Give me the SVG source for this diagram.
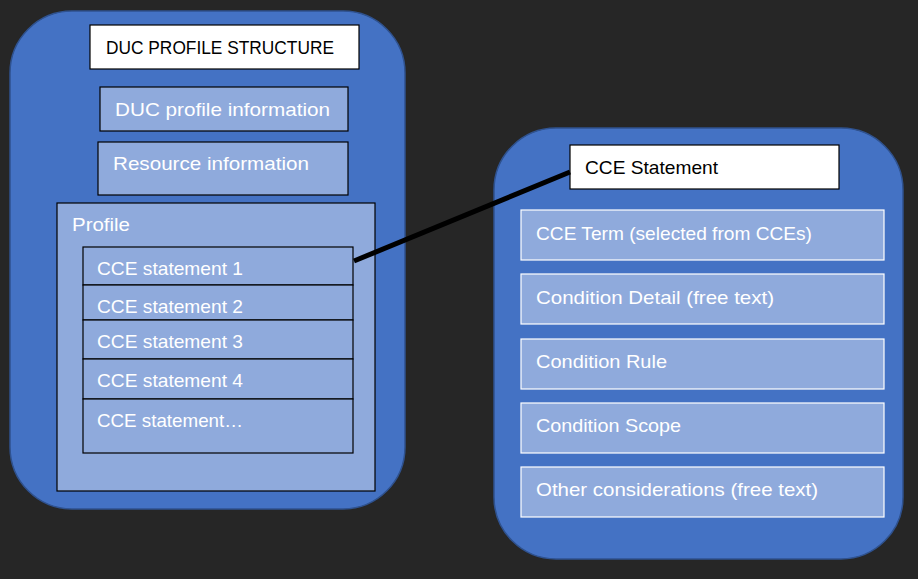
<svg xmlns="http://www.w3.org/2000/svg" width="918" height="579" viewBox="0 0 918 579">
<style>
.bg{fill:#262626}
.outer{fill:#4472C4;stroke:#2F528F;stroke-width:1.5}
.title{fill:#FFFFFF;stroke:#000000;stroke-width:1.2}
.light{fill:#8FAADC;stroke:#000000;stroke-width:1.2}
.lightw{fill:#8FAADC;stroke:#FFFFFF;stroke-width:1.2}
text{font-family:"Liberation Sans",Arial,sans-serif;font-size:18.5px}
.dark{fill:#000000}
.wt{fill:#FFFFFF}
.conn{stroke:#000000;stroke-width:5;fill:none}
</style>
<rect class="bg" x="0" y="0" width="918" height="579"/>
<g id="duc-profile-structure">
<rect class="outer" x="10" y="11" width="395" height="498" rx="62" ry="62"/>
<rect class="title" x="90" y="25" width="269" height="44"/>
<text class="dark" x="106" y="54" style="font-size:17.5px" textLength="228" lengthAdjust="spacingAndGlyphs">DUC PROFILE STRUCTURE</text>
</g>
<g id="duc-profile-information">
<rect class="light" x="100" y="87" width="248" height="44"/>
<text class="wt" x="115" y="116" textLength="215" lengthAdjust="spacingAndGlyphs">DUC profile information</text>
</g>
<g id="resource-information">
<rect class="light" x="98" y="142" width="250" height="53"/>
<text class="wt" x="113" y="170" textLength="196" lengthAdjust="spacingAndGlyphs">Resource information</text>
</g>
<g id="profile">
<rect class="light" x="57" y="203" width="318" height="288"/>
<text class="wt" x="72" y="231" textLength="58" lengthAdjust="spacingAndGlyphs">Profile</text>
</g>
<g id="cce-statement-1">
<rect class="light" x="83" y="247" width="270" height="38"/>
<text class="wt" x="97" y="275" textLength="146" lengthAdjust="spacingAndGlyphs">CCE statement 1</text>
</g>
<g id="cce-statement-2">
<rect class="light" x="83" y="285" width="270" height="35"/>
<text class="wt" x="97" y="313" textLength="146" lengthAdjust="spacingAndGlyphs">CCE statement 2</text>
</g>
<g id="cce-statement-3">
<rect class="light" x="83" y="320" width="270" height="39"/>
<text class="wt" x="97" y="348" textLength="146" lengthAdjust="spacingAndGlyphs">CCE statement 3</text>
</g>
<g id="cce-statement-4">
<rect class="light" x="83" y="359" width="270" height="40"/>
<text class="wt" x="97" y="387" textLength="146" lengthAdjust="spacingAndGlyphs">CCE statement 4</text>
</g>
<g id="cce-statement-more">
<rect class="light" x="83" y="399" width="270" height="54"/>
<text class="wt" x="97" y="427" textLength="146" lengthAdjust="spacingAndGlyphs">CCE statement…</text>
</g>
<g id="cce-statement-detail">
<rect class="outer" x="494" y="128" width="409" height="431" rx="62" ry="62"/>
<rect class="title" x="570" y="145" width="269" height="44"/>
<text class="dark" x="585" y="174" textLength="133" lengthAdjust="spacingAndGlyphs">CCE Statement</text>
</g>
<g id="cce-term">
<rect class="lightw" x="521" y="210" width="363" height="50"/>
<text class="wt" x="536" y="240" textLength="276" lengthAdjust="spacingAndGlyphs">CCE Term (selected from CCEs)</text>
</g>
<g id="condition-detail">
<rect class="lightw" x="521" y="274" width="363" height="50"/>
<text class="wt" x="536" y="304" textLength="238" lengthAdjust="spacingAndGlyphs">Condition Detail (free text)</text>
</g>
<g id="condition-rule">
<rect class="lightw" x="521" y="339" width="363" height="50"/>
<text class="wt" x="536" y="368" textLength="131" lengthAdjust="spacingAndGlyphs">Condition Rule</text>
</g>
<g id="condition-scope">
<rect class="lightw" x="521" y="403" width="363" height="50"/>
<text class="wt" x="536" y="432" textLength="145" lengthAdjust="spacingAndGlyphs">Condition Scope</text>
</g>
<g id="other-considerations">
<rect class="lightw" x="521" y="467" width="363" height="50"/>
<text class="wt" x="536" y="496" textLength="282" lengthAdjust="spacingAndGlyphs">Other considerations (free text)</text>
</g>
<g id="connectors">
<line class="conn" x1="354" y1="261" x2="570" y2="172"/>
</g>
</svg>
